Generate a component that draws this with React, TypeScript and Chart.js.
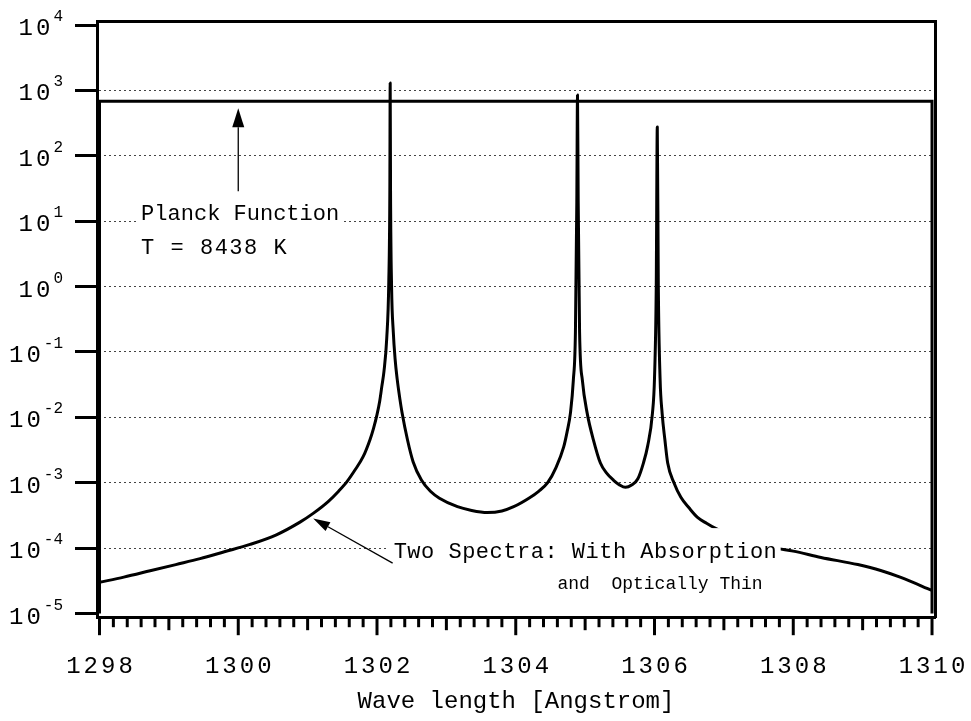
import React, { useEffect, useRef } from 'react';
import { Chart, registerables } from 'chart.js';

Chart.register(...registerables);

// ---- data ----
const xTickLabels = [1298, 1300, 1302, 1304, 1306, 1308, 1310];
const yTickExponents = [-5, -4, -3, -2, -1, 0, 1, 2, 3, 4];

// Planck function (T = 8438 K), drawn as a box over the wavelength window
const planckWavelength = [1298, 1298, 1310, 1310];
const planckIntensity = [1e-5, 680, 680, 1e-5];

// Spectrum (with absorption / optically thin coincide except at line cores)
const spectrumWavelength = [
  1298.0, 1298.35, 1298.73, 1299.1, 1299.45, 1299.8, 1300.17, 1300.55, 1300.89, 1301.08,
  1301.3, 1301.45, 1301.57, 1301.68, 1301.8, 1301.9, 1301.95, 1302.0, 1302.04, 1302.07,
  1302.1, 1302.14, 1302.17, 1302.185, 1302.19, 1302.195, 1302.21, 1302.235, 1302.26, 1302.29,
  1302.33, 1302.36, 1302.44, 1302.52, 1302.64, 1302.77, 1302.9, 1303.16, 1303.35, 1303.59,
  1303.8, 1303.97, 1304.2, 1304.33, 1304.46, 1304.58, 1304.69, 1304.74, 1304.79, 1304.83,
  1304.86, 1304.88, 1304.89, 1304.9, 1304.92, 1304.96, 1305.03, 1305.12, 1305.22, 1305.31,
  1305.41, 1305.5, 1305.58, 1305.67, 1305.76, 1305.84, 1305.9, 1305.97, 1306.0, 1306.025,
  1306.04, 1306.055, 1306.08, 1306.11, 1306.15, 1306.19, 1306.28, 1306.38, 1306.5, 1306.62,
  1306.75, 1306.88, 1307.05, 1307.24, 1307.53, 1307.75, 1308.0, 1308.4, 1308.93, 1309.26,
  1309.55, 1310.0,
];
const spectrumIntensity = [
  3.0e-5, 3.6e-5, 4.5e-5, 5.6e-5, 6.9e-5, 8.8e-5, 1.14e-4, 1.6e-4, 2.5e-4, 3.4e-4,
  5.2e-4, 7.5e-4, 1.05e-3, 1.55e-3, 2.5e-3, 4.6e-3, 6.8e-3, 1.1e-2, 1.8e-2, 3.0e-2,
  5.0e-2, 0.16, 1.2, 30, 1300, 30, 1.0, 0.2, 8.0e-2, 3.9e-2,
  1.9e-2, 1.2e-2, 4.5e-3, 2.1e-3, 1.1e-3, 7.4e-4, 5.8e-4, 4.3e-4, 3.8e-4, 3.5e-4,
  3.7e-4, 4.3e-4, 5.9e-4, 7.4e-4, 1.0e-3, 1.7e-3, 3.5e-3, 6.0e-3, 1.2e-2, 3.7e-2,
  0.2, 20, 850, 20, 0.2, 3.7e-2, 1.15e-2, 4.5e-3, 2.0e-3, 1.4e-3,
  1.09e-3, 9.2e-4, 8.5e-4, 9.2e-4, 1.15e-3, 2.0e-3, 3.6e-3, 1.15e-2, 4e-2, 1.0,
  275, 1.0, 4e-2, 1.15e-2, 4.5e-3, 2.0e-3, 1.0e-3, 6.0e-4, 4.1e-4, 2.95e-4,
  2.4e-4, 2.0e-4, 1.65e-4, 1.4e-4, 1.14e-4, 1.0e-4, 9.0e-5, 7.2e-5, 5.6e-5, 4.55e-5,
  3.56e-5, 2.25e-5,
];

const X_MIN = 1297.964;
const X_MAX = 1310.043;
const Y_MIN = 8.78e-6;
const Y_MAX = 11520;

const MONO = '"Liberation Mono", "Courier New", monospace';

function drawSpaced(ctx: any, text: string, x: number, y: number, font: string, spacing: number, align: string) {
  ctx.font = font;
  ctx.letterSpacing = spacing + 'px';
  const w = ctx.measureText(text).width - spacing;
  const left = align === 'left' ? x : align === 'center' ? x - w / 2 : x - w;
  ctx.textAlign = 'left';
  ctx.fillText(text, left, y);
  ctx.letterSpacing = '0px';
  return w;
}

function arrow(ctx: any, x1: number, y1: number, x2: number, y2: number, headLen: number, headHalf: number) {
  const ang = Math.atan2(y2 - y1, x2 - x1);
  const bx = x2 - headLen * Math.cos(ang);
  const by = y2 - headLen * Math.sin(ang);
  ctx.beginPath();
  ctx.moveTo(x1, y1);
  ctx.lineTo(bx, by);
  ctx.lineWidth = 1.3;
  ctx.stroke();
  ctx.beginPath();
  ctx.moveTo(x2, y2);
  ctx.lineTo(bx + headHalf * Math.sin(ang), by - headHalf * Math.cos(ang));
  ctx.lineTo(bx - headHalf * Math.sin(ang), by + headHalf * Math.cos(ang));
  ctx.closePath();
  ctx.fill();
}

const annotations = {
  id: 'annotations',
  afterDraw(chart: any) {
    const { ctx, scales } = chart;
    const x = scales.x;
    const y = scales.y;
    const area = chart.chartArea;
    ctx.save();
    ctx.fillStyle = '#000';
    ctx.strokeStyle = '#000';
    ctx.textBaseline = 'alphabetic';

    // x tick marks: minor every 0.2, medium at odd integers, major at labels
    ctx.lineWidth = 3;
    ctx.lineCap = 'butt';
    for (let i = 0; i <= 60; i++) {
      const v = 1298 + i * 0.2;
      const px = x.getPixelForValue(v);
      const len = i % 10 === 0 ? 18 : i % 5 === 0 ? 13 : 10;
      ctx.beginPath();
      ctx.moveTo(px, area.bottom);
      ctx.lineTo(px, area.bottom + len);
      ctx.stroke();
    }

    // x tick labels
    for (const t of xTickLabels) {
      drawSpaced(ctx, String(t), x.getPixelForValue(t), 673, '24px ' + MONO, 3, 'center');
    }

    // y tick labels 10^n
    for (const e of yTickExponents) {
      const py = y.getPixelForValue(Math.pow(10, e));
      const ew = drawSpaced(ctx, String(e), 63, py - 4, '16px ' + MONO, 0, 'right');
      drawSpaced(ctx, '10', 63 - ew - 3, py + 10, '24px ' + MONO, 3, 'right');
    }

    // Planck label
    const lx = x.getPixelForValue(1298.6);
    const ly = y.getPixelForValue(10) - 1;
    ctx.fillStyle = '#fff';
    ctx.fillRect(lx - 4, ly - 20, 206, 27);
    ctx.fillStyle = '#000';
    drawSpaced(ctx, 'Planck Function', lx, ly, '22px ' + MONO, 0, 'left');
    drawSpaced(ctx, 'T = 8438 K', lx, ly + 34, '22px ' + MONO, 1.5, 'left');
    const ax = x.getPixelForValue(1300);
    const tipY = y.getPixelForValue(planckIntensity[1]) + 7;
    arrow(ctx, ax, ly - 29, ax, tipY, 19, 6);

    // Two spectra label
    const sx = x.getPixelForValue(1302.24);
    const sy = y.getPixelForValue(1e-4) + 10;
    ctx.fillStyle = '#fff';
    ctx.fillRect(sx - 5, sy - 30, 392, 39);
    ctx.fillStyle = '#000';
    drawSpaced(ctx, 'Two Spectra: With Absorption', sx, sy, '22px ' + MONO, 0.5, 'left');
    drawSpaced(ctx, 'and  Optically Thin', x.getPixelForValue(1304.6), sy + 31, '18px ' + MONO, 0, 'left');
    arrow(ctx, sx - 1, sy + 5, x.getPixelForValue(1301.08), y.getPixelForValue(2.85e-4), 17, 5);

    ctx.restore();
  },
};

export default function App() {
  const ref = useRef<HTMLCanvasElement>(null);
  useEffect(() => {
    document.body.style.margin = '0';
    const canvas = ref.current;
    if (!canvas) return;
    const spectrum = spectrumWavelength.map((w, i) => ({ x: w, y: spectrumIntensity[i] }));
    const planck = planckWavelength.map((w, i) => ({ x: w, y: planckIntensity[i] }));
    const lastIdx = yTickExponents.length - 1;
    const chart = new Chart(canvas, {
      type: 'line',
      data: {
        datasets: [
          {
            label: 'Planck Function',
            data: planck,
            borderColor: '#000',
            borderWidth: 3,
            pointRadius: 0,
            tension: 0,
            fill: false,
          },
          {
            label: 'Two Spectra',
            data: spectrum,
            borderColor: '#000',
            borderWidth: 3,
            pointRadius: 0,
            cubicInterpolationMode: 'monotone',
            borderJoinStyle: 'round',
            fill: false,
          },
        ],
      },
      options: {
        animation: false,
        responsive: false,
        devicePixelRatio: 1,
        layout: { padding: { left: 75, right: 36, top: 21, bottom: 0 } },
        plugins: { legend: { display: false }, tooltip: { enabled: false } },
        scales: {
          x: {
            type: 'linear',
            position: 'bottom',
            min: X_MIN,
            max: X_MAX,
            grid: { display: false, drawTicks: false },
            border: { display: true, color: '#000', width: 3 },
            ticks: { display: false },
            title: {
              display: true,
              text: 'Wave length [Angstrom]',
              color: '#000',
              font: { family: MONO, size: 24 },
              padding: { top: 70, bottom: 5 },
            },
          },
          y: {
            type: 'logarithmic',
            position: 'left',
            min: Y_MIN,
            max: Y_MAX,
            afterBuildTicks: (s: any) => {
              s.ticks = yTickExponents.map((e) => ({ value: Math.pow(10, e) }));
            },
            grid: {
              color: (c: any) => (c.index === 0 || c.index === lastIdx ? 'rgba(0,0,0,0)' : '#444'),
              lineWidth: 1,
              drawTicks: true,
              tickLength: 22,
              tickWidth: 3,
              tickColor: '#000',
              tickBorderDash: [],
            },
            border: { display: true, color: '#000', width: 3, dash: [2, 3] },
            ticks: { display: false },
          },
          xTop: {
            type: 'linear',
            position: 'top',
            min: 0,
            max: 1,
            grid: { display: false, drawTicks: false },
            border: { display: true, color: '#000', width: 3 },
            ticks: { display: false },
          },
          yRight: {
            type: 'linear',
            position: 'right',
            min: 0,
            max: 1,
            grid: { display: false, drawTicks: false },
            border: { display: true, color: '#000', width: 3 },
            ticks: { display: false },
          },
        },
      } as any,
      plugins: [annotations],
    });
    return () => chart.destroy();
  }, []);
  return <canvas ref={ref} width={971} height={721} style={{ display: 'block', width: 971, height: 721 }} />;
}
